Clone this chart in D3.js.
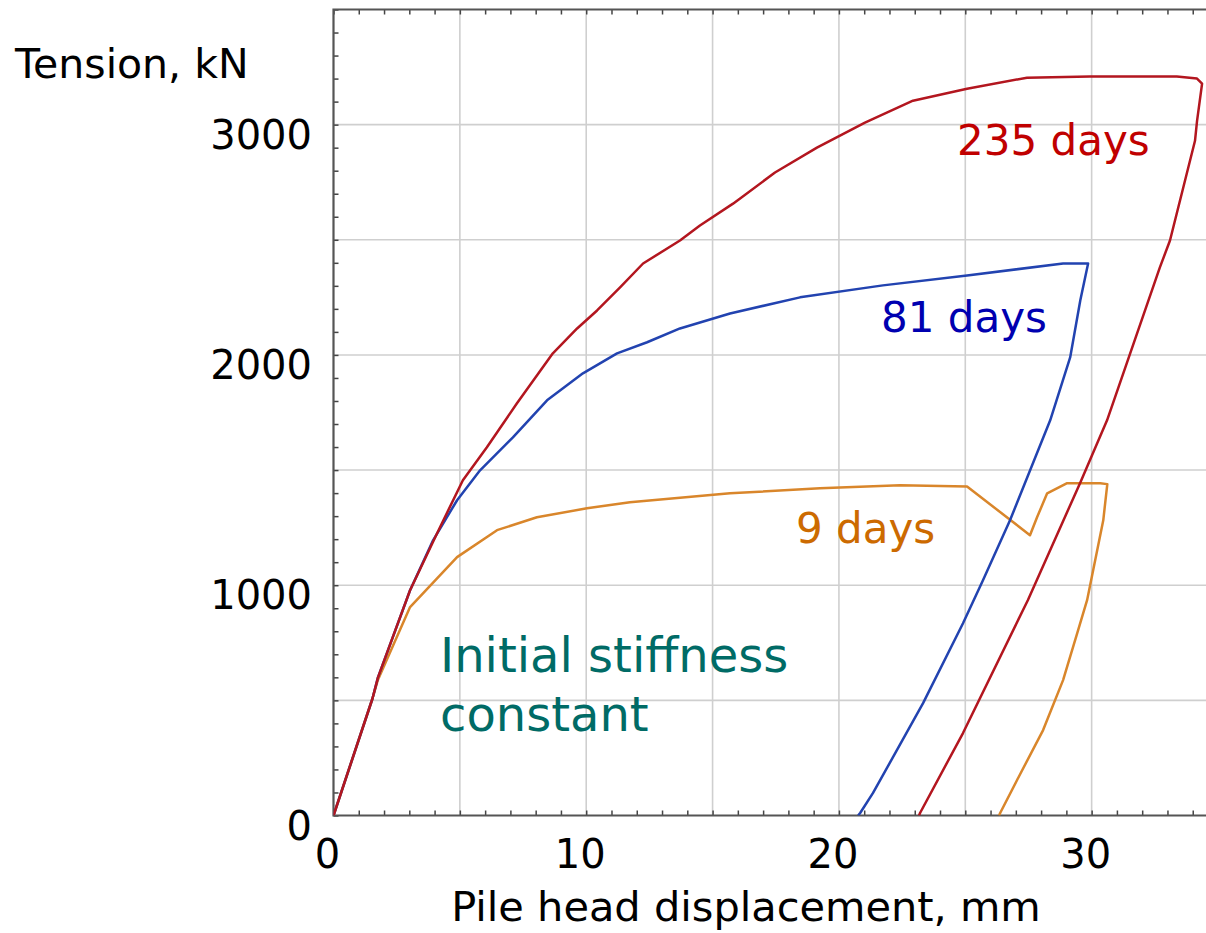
<!DOCTYPE html>
<html>
<head>
<meta charset="utf-8">
<script src="https://cdn.jsdelivr.net/npm/d3@7"></script>
<style>
  html, body { margin: 0; padding: 0; background: #fff; }
  svg { display: block; font-family: "DejaVu Sans", Verdana, sans-serif; }
</style>
</head>
<body>
<svg id="chart" width="1206" height="933"></svg>
<script>
// Pile tension load tests: tension (kN) vs pile head displacement (mm)
const xTickValues = [0, 10, 20, 30];
const yTickValues = [0, 1000, 2000, 3000];

// 9 days after installation
const disp9 = [0, 1.54, 1.76, 3.03, 4.89, 6.47, 8.05, 10.03, 11.73, 15.69, 19.25, 22.42, 25.07, 27.56, 27.84, 28.24, 29.03, 30.34, 30.62, 30.46, 29.82, 29.43, 28.87, 28.08, 27.05, 26.38, 26.34];
const tens9 = [0, 507, 590, 905, 1122, 1239, 1295, 1334, 1360, 1399, 1421, 1434, 1429, 1217, 1295, 1399, 1443, 1443, 1439, 1282, 935, 792, 588, 371, 154, 11, 0];

// 81 days after installation
const disp81 = [0, 1.54, 1.76, 3.03, 3.94, 4.89, 5.80, 7.10, 8.45, 9.87, 11.22, 12.41, 13.71, 15.69, 18.46, 21.74, 25.07, 28.87, 29.86, 29.55, 29.15, 28.36, 26.77, 25.70, 24.91, 23.33, 21.35, 20.84, 20.76];
const tens81 = [0, 507, 600, 978, 1195, 1369, 1499, 1642, 1803, 1920, 2007, 2055, 2115, 2180, 2250, 2302, 2345, 2397, 2397, 2236, 1989, 1716, 1282, 1022, 835, 488, 98, 11, 0];

// 235 days after installation
const disp235 = [0, 1.54, 1.76, 3.03, 4.10, 5.12, 6.07, 7.26, 8.68, 9.64, 10.43, 11.34, 12.25, 13.71, 14.50, 15.81, 17.47, 19.13, 21.03, 22.93, 25.07, 27.44, 29.93, 33.37, 34.17, 34.37, 34.17, 34.09, 33.10, 32.70, 30.61, 29.54, 27.48, 24.91, 23.21, 23.17];
const tens235 = [0, 507, 600, 978, 1226, 1456, 1599, 1790, 2007, 2115, 2193, 2293, 2397, 2497, 2562, 2657, 2792, 2900, 3009, 3104, 3156, 3204, 3209, 3209, 3200, 3178, 3015, 2930, 2497, 2380, 1716, 1443, 936, 358, 11, 0];

const seriesNames = ["9 days", "81 days", "235 days"];

const svg = d3.select("#chart");
const margin = { left: 333.5, top: 9.5 };
const plotW = 884.5;   // 0..35 mm
const plotH = 806;     // 0..3500 kN

const x = d3.scaleLinear().domain([0, 35]).range([margin.left, margin.left + plotW]);
const y = d3.scaleLinear().domain([0, 3500]).range([margin.top + plotH, margin.top]);

const clipId = "plotclip";
svg.append("defs").append("clipPath").attr("id", clipId)
  .append("rect").attr("x", x(0)).attr("y", y(3500)).attr("width", plotW).attr("height", plotH);

// grid lines every 5 mm and 500 kN
const grid = svg.append("g").attr("stroke", "#cfcfcf").attr("stroke-width", 1.6);
grid.selectAll("line.gx").data(d3.range(5, 35, 5)).join("line")
  .attr("x1", d => x(d)).attr("x2", d => x(d))
  .attr("y1", y(0)).attr("y2", y(3500));
grid.selectAll("line.gy").data(d3.range(500, 3500, 500)).join("line")
  .attr("x1", x(0)).attr("x2", x(35))
  .attr("y1", d => y(d)).attr("y2", d => y(d));

// inward minor ticks on the frame
const tickLen = 5;
const tickColor = "#444";
const axisBottom = d3.axisTop(x).tickValues(d3.range(0, 36, 1)).tickSize(tickLen).tickFormat("");
const axisTopT = d3.axisBottom(x).tickValues(d3.range(0, 36, 1)).tickSize(tickLen).tickFormat("");
const axisLeftT = d3.axisRight(y).tickValues(d3.range(0, 3600, 100)).tickSize(tickLen).tickFormat("");

function styleAxis(g) {
  g.select(".domain").remove();
  g.selectAll(".tick line").attr("stroke", tickColor).attr("stroke-width", 1.5);
}
svg.append("g").attr("transform", `translate(0,${y(0)})`).call(axisBottom).call(styleAxis);
svg.append("g").attr("transform", `translate(0,${y(3500)})`).call(axisTopT).call(styleAxis);
svg.append("g").attr("transform", `translate(${x(0)},0)`).call(axisLeftT).call(styleAxis);

// frame
svg.append("path")
  .attr("d", `M${x(35)},${y(3500)}H${x(0)}V${y(0)}H${x(35)}`)
  .attr("fill", "none").attr("stroke", "#555").attr("stroke-width", 2.2);

// load-displacement curves
const line = d3.line().x(d => x(d[0])).y(d => y(d[1]));
const series = [
  { name: seriesNames[0], pts: d3.zip(disp9, tens9), color: "#d9862b" },
  { name: seriesNames[1], pts: d3.zip(disp81, tens81), color: "#2243b0" },
  { name: seriesNames[2], pts: d3.zip(disp235, tens235), color: "#b3161f" }
];
svg.append("g").attr("clip-path", `url(#${clipId})`)
  .selectAll("path").data(series).join("path")
  .attr("d", d => line(d.pts))
  .attr("fill", "none")
  .attr("stroke", d => d.color)
  .attr("stroke-width", 2.5)
  .attr("stroke-linejoin", "round");

// tick labels
svg.append("g").selectAll("text").data(xTickValues).join("text")
  .attr("x", d => x(d) - 6).attr("y", 868)
  .attr("text-anchor", "middle").attr("font-size", 40).attr("fill", "#000")
  .text(d => d);
svg.append("g").selectAll("text").data(yTickValues).join("text")
  .attr("x", 312).attr("y", d => y(d) + 24)
  .attr("text-anchor", "end").attr("font-size", 40).attr("fill", "#000")
  .text(d => d);

// axis titles
svg.append("text").attr("x", 15).attr("y", 78)
  .attr("font-size", 41).attr("fill", "#000").text("Tension, kN");
svg.append("text").attr("x", 746).attr("y", 921)
  .attr("text-anchor", "middle").attr("font-size", 41.5).attr("fill", "#000")
  .text("Pile head displacement, mm");

// series annotations
const labels = [
  { text: seriesNames[2], x: 957, y: 155, color: "#c00000" },
  { text: seriesNames[1], x: 881, y: 332, color: "#0000b0" },
  { text: seriesNames[0], x: 796, y: 543, color: "#cc6a00" }
];
svg.append("g").selectAll("text").data(labels).join("text")
  .attr("x", d => d.x).attr("y", d => d.y)
  .attr("font-size", 42).attr("fill", d => d.color)
  .text(d => d.text);

const note = svg.append("text").attr("font-size", 48).attr("fill", "#006b66");
note.append("tspan").attr("x", 440).attr("y", 672).text("Initial stiffness");
note.append("tspan").attr("x", 440).attr("y", 731).text("constant");
</script>
</body>
</html>
